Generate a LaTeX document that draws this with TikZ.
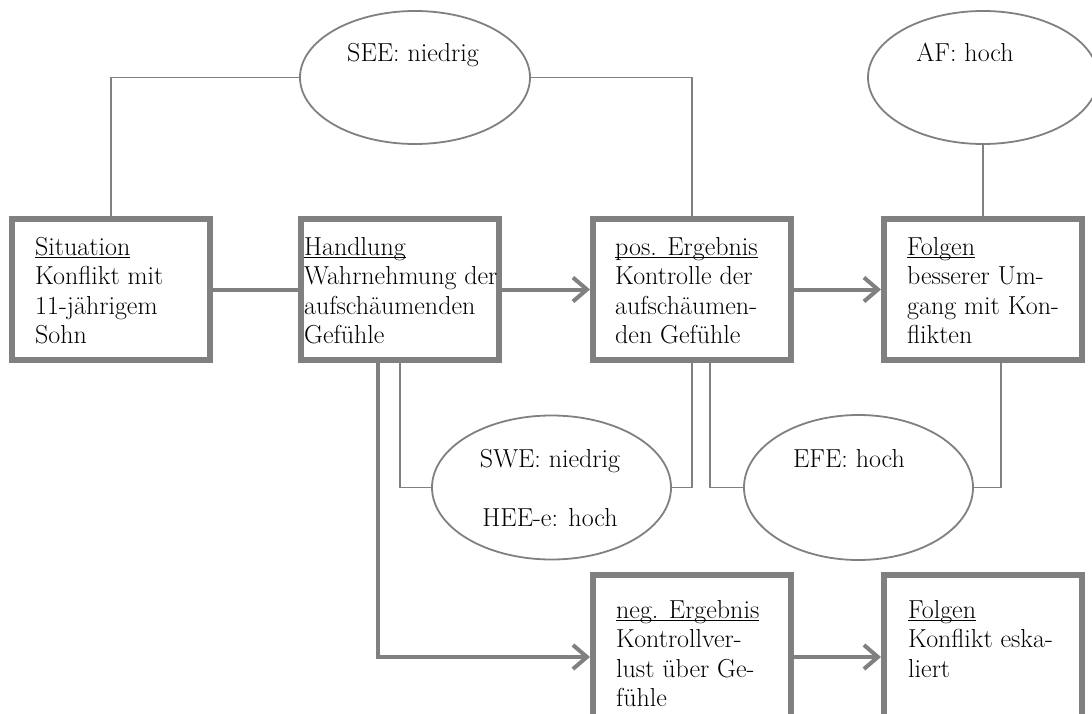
\documentclass[tikz,border=0pt]{standalone}
\usetikzlibrary{shapes.geometric,arrows.meta,calc}
\definecolor{linegray}{HTML}{808080}
\newlength\ulwd
\newcommand\ulword[1]{\settowidth\ulwd{#1}\rlap{\rule[-3pt]{\ulwd}{1.5pt}}#1}

\begin{document}
\begin{tikzpicture}[x=1pt,y=-1pt,
  stepbox/.style={draw=linegray,line width=6pt,rectangle,minimum width=198pt,minimum height=141pt,inner sep=0pt,fill=white},
  ovalbox/.style={draw=linegray,line width=1.8pt,ellipse,inner sep=0pt,fill=white},
  boxtext/.style={anchor=base west,align=left,inner sep=0pt,font=\fontsize{26pt}{29.5pt}\selectfont},
  ovaltext/.style={anchor=base,inner sep=0pt,font=\fontsize{26pt}{29.5pt}\selectfont},
  linkthin/.style={draw=linegray,line width=1.8pt},
  flowline/.style={draw=linegray,line width=4pt},
  flowarrow/.style={flowline,-{Straight Barb[length=14pt,width=24pt]}},
]
\clip (0,0) rectangle (1092,714);

% step boxes, top row
\node[stepbox] (sit) at (111,289.5) {};
\node[stepbox] (hand) at (400,289.5) {};
\node[stepbox] (pos) at (692,289.5) {};
\node[stepbox] (fol) at (983,289.5) {};
% step boxes, bottom row
\node[stepbox,minimum height=164pt] (neg) at (692,657) {};
\node[stepbox,minimum height=164pt] (folneg) at (983,657) {};

% rating ovals
\node[ovalbox,minimum width=230pt,minimum height=133pt] (see) at (415,77.5) {};
\node[ovalbox,minimum width=230pt,minimum height=133pt] (af) at (983,77.5) {};
\node[ovalbox,minimum width=239pt,minimum height=144pt] (swe) at (551.5,487.5) {};
\node[ovalbox,minimum width=229pt,minimum height=145pt] (efe) at (858.5,487.5) {};

% box texts (anchored on the baseline of the last line)
\node[boxtext] (sitT) at (35,343.5) {\ulword{Situation}\\Konflikt mit\\11-jährigem\\Sohn};
\node[boxtext] (handT) at (304,343.5) {\ulword{Handlung}\\Wahrnehmung der\\aufschäumenden\\Gefühle};
\node[boxtext] (posT) at (615,343.5) {\ulword{pos. Ergebnis}\\Kontrolle der\\aufschäumen-\\den Gefühle};
\node[boxtext] (folT) at (907,343.5) {\ulword{Folgen}\\besserer Um-\\gang mit Kon-\\flikten};
\node[boxtext] (negT) at (616,706.5) {\ulword{neg. Ergebnis}\\Kontrollver-\\lust über Ge-\\fühle};
\node[boxtext] (folnegT) at (908,677) {\ulword{Folgen}\\Konflikt eska-\\liert};

% oval texts
\node[ovaltext] (seeT) at (413,62) {SEE: niedrig};
\node[ovaltext] (afT) at (965,62) {AF: hoch};
\node[ovaltext] (sweT) at (550,467) {SWE: niedrig};
\node[ovaltext] (heeT) at (550,526) {HEE-e: hoch};
\node[ovaltext] (efeT) at (849,467) {EFE: hoch};

% thin links between ovals and boxes
\draw[linkthin] (see.west) -| (sit.north);
\draw[linkthin] (see.east) -| (pos.north);
\draw[linkthin] (af.south) -- (fol.north);
\draw[linkthin] (hand.south) |- (swe.west);
\draw[linkthin] (pos.south) |- (swe.east);
\draw[linkthin] ($(pos.south)+(18,0)$) |- (efe.west);
\draw[linkthin] ($(fol.south)+(18,0)$) |- (efe.east);

% main flow
\draw[flowline] (sit.east) -- (hand.west);
\draw[flowarrow] (hand.east) -- (pos.west);
\draw[flowarrow] (pos.east) -- (fol.west);
\draw[flowarrow] ($(hand.south)+(-22,0)$) |- (neg.west);
\draw[flowarrow] (neg.east) -- (folneg.west);
\end{tikzpicture}
\end{document}
